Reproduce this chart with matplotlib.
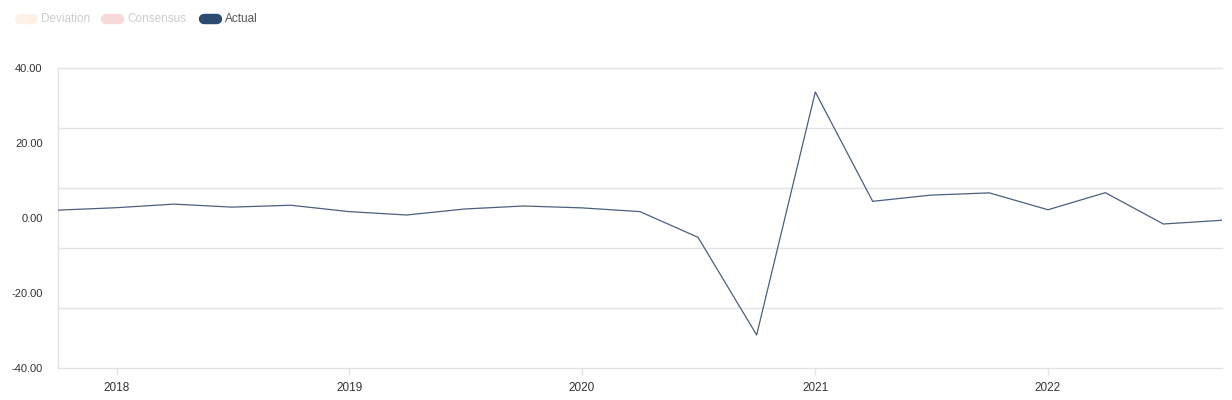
import numpy as np
import pandas as pd
import matplotlib.pyplot as plt
from matplotlib.lines import Line2D

# quarterly values
dates = pd.date_range("2017-10-01", "2022-10-01", freq="QS")
actual = [2.1, 2.75, 3.7, 2.9, 3.4, 1.7, 0.8, 2.4, 3.2, 2.7, 1.7,
          -5.15, -31.2, 33.6, 4.45, 6.1, 6.7, 2.2, 6.75, -1.6, -0.6]
ytick_vals = [-40, -20, 0, 20, 40]
grid_vals = np.linspace(-40, 40, 6)
years = [2018, 2019, 2020, 2021, 2022]

plt.rcParams['font.family'] = ['Liberation Sans', 'DejaVu Sans']

fig = plt.figure(figsize=(12.32, 4.0), dpi=100)
ax = fig.add_axes([58/1232, 1 - 368/400, (1222 - 58)/1232, 300/400])

ax.plot(dates, actual, color='#4b5f7f', lw=0.9, zorder=3)

ax.set_xlim(dates[0], dates[-1])
ax.set_ylim(-40, 40)

# gridlines do not coincide with the labels in the original
for g in grid_vals:
    ax.axhline(g, color='#e3e3e3', lw=1.0, zorder=1, clip_on=False)
ax.set_yticks(ytick_vals)
ax.set_yticklabels(["%.2f" % v for v in ytick_vals])
ax.tick_params(axis='y', length=0, pad=11, labelsize=8, labelcolor='#333333')

ax.set_xticks([pd.Timestamp(f"{y}-01-01") for y in years])
ax.set_xticklabels([str(y) for y in years])
ax.tick_params(axis='x', length=5, width=1, color='#e3e3e3', pad=5,
               labelsize=8.5, labelcolor='#333333')

for s in ['top', 'right', 'bottom']:
    ax.spines[s].set_visible(False)
ax.spines['left'].set_color('#e3e3e3')
ax.spines['left'].set_linewidth(1.0)

# legend pills
legend = [("Deviation", '#fdf1e8', '#cccccc'),
          ("Consensus", '#f6d9d8', '#cccccc'),
          ("Actual", '#2d4a73', '#555555')]
x0 = [15, 101, 199]
for (name, fc, tc), x in zip(legend, x0):
    pill = Line2D([(x + 5)/1232, (x + 18)/1232], [1 - 19/400, 1 - 19/400],
                  transform=fig.transFigure, color=fc, lw=7.5,
                  solid_capstyle='round')
    fig.add_artist(pill)
    fig.text((x + 26)/1232, 1 - 19/400, name, fontsize=8.5, color=tc,
             va='center', ha='left')

fig.savefig("out.png", dpi=100)
